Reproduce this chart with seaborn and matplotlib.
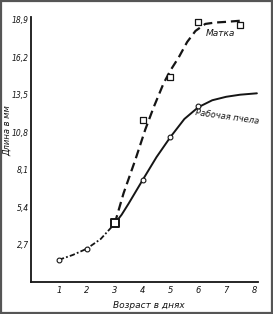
import matplotlib
matplotlib.use("Agg")
import matplotlib.pyplot as plt
import seaborn as sns
from matplotlib.patches import Rectangle

# ---- data ----
early_x = [1.0, 1.5, 2.0, 2.5, 3.0]
early_y = [1.6, 1.95, 2.4, 3.1, 4.2]

queen_x = [3.0, 3.32, 3.74, 4.1, 4.4, 4.75, 5.0, 5.3, 5.6, 5.9, 6.25, 6.6, 7.0, 7.62]
queen_y = [4.2, 6.4, 8.8, 11.0, 12.6, 14.3, 15.25, 16.2, 17.3, 18.1, 18.6, 18.7, 18.75, 18.85]

worker_x = [3.0, 3.25, 3.5, 4.0, 4.5, 5.0, 5.5, 6.0, 6.5, 7.0, 7.5, 8.1]
worker_y = [4.2, 4.85, 5.65, 7.34, 9.0, 10.45, 11.75, 12.6, 13.1, 13.35, 13.5, 13.6]

queen_pts_x = [4.0, 5.0, 6.0, 7.5]
queen_pts_y = [11.65, 14.77, 18.73, 18.5]
worker_pts_x = [1.0, 2.0, 4.0, 5.0, 6.0]
worker_pts_y = [1.58, 2.37, 7.34, 10.45, 12.68]
start_x = [3.0]
start_y = [4.25]

x_ticks = [1, 2, 3, 4, 5, 6, 7, 8]
y_ticks = [2.7, 5.4, 8.1, 10.8, 13.5, 16.2, 18.9]
y_tick_labels = ["2,7", "5,4", "8,1", "10,8", "13,5", "16,2", "18,9"]

label_queen = "Матка"
label_worker = "Рабочая пчела"
x_label = "Возраст в днях"
y_label = "Длина в мм"

# ---- plot ----
sns.set_theme(style="white")
plt.rcParams['font.family'] = ['DejaVu Sans']
ink = "#151515"

fig = plt.figure(figsize=(2.73, 3.14), dpi=100)
ax = fig.add_axes([31/273, 1-282/314, (258-31)/273, (282-17)/314])

sns.lineplot(x=early_x, y=early_y, ax=ax, color=ink, lw=1.3, sort=False,
             linestyle=(0, (3, 1.2, 1, 1.2)))
sns.lineplot(x=queen_x, y=queen_y, ax=ax, color=ink, lw=1.6, sort=False,
             linestyle=(0, (4, 2.2)))
sns.lineplot(x=worker_x, y=worker_y, ax=ax, color=ink, lw=1.4, sort=False)

sns.scatterplot(x=queen_pts_x, y=queen_pts_y, ax=ax, marker="s", s=18,
                facecolor="white", edgecolor=ink, linewidth=0.9, zorder=5)
sns.scatterplot(x=worker_pts_x, y=worker_pts_y, ax=ax, marker="o", s=12,
                facecolor="white", edgecolor=ink, linewidth=0.8, zorder=5)
sns.scatterplot(x=start_x, y=start_y, ax=ax, marker="s", s=28,
                facecolor="white", edgecolor=ink, linewidth=1.4, zorder=6)

ax.set_xlim(0, 8.14)
ax.set_ylim(0, 19.1)
ax.set_xticks(x_ticks)
ax.set_xticklabels([str(t) for t in x_ticks], fontsize=6, style="italic", color=ink)
ax.set_yticks(y_ticks)
ax.set_yticklabels(y_tick_labels, fontsize=5.5, style="italic", color=ink)
ax.tick_params(axis="x", direction="in", length=3, width=0.8, colors=ink, pad=3)
ax.tick_params(axis="y", direction="in", length=2.5, width=0.8, colors=ink, pad=1.5)

for s in ["top", "right"]:
    ax.spines[s].set_visible(False)
for s in ["left", "bottom"]:
    ax.spines[s].set_color(ink)
    ax.spines[s].set_linewidth(1.3)

ax.set_xlabel(x_label, fontsize=6.5, style="italic", color=ink)
ax.xaxis.set_label_coords(0.52, -0.07)
ax.set_ylabel(y_label, fontsize=6, style="italic", color=ink)
ax.yaxis.set_label_coords(-0.085, 0.57)

ax.text(6.8, 17.9, label_queen, fontsize=6.5, style="italic", color=ink,
        ha="center", va="center")
ax.text(7.05, 11.9, label_worker, fontsize=6, style="italic", color=ink,
        ha="center", va="center", rotation=-8)

fig.patches.append(Rectangle((0.002, 0.003), 0.995, 0.994, transform=fig.transFigure,
                             fill=False, edgecolor="#555555", linewidth=1.6))

fig.savefig("out.png", dpi=100, facecolor="white")
